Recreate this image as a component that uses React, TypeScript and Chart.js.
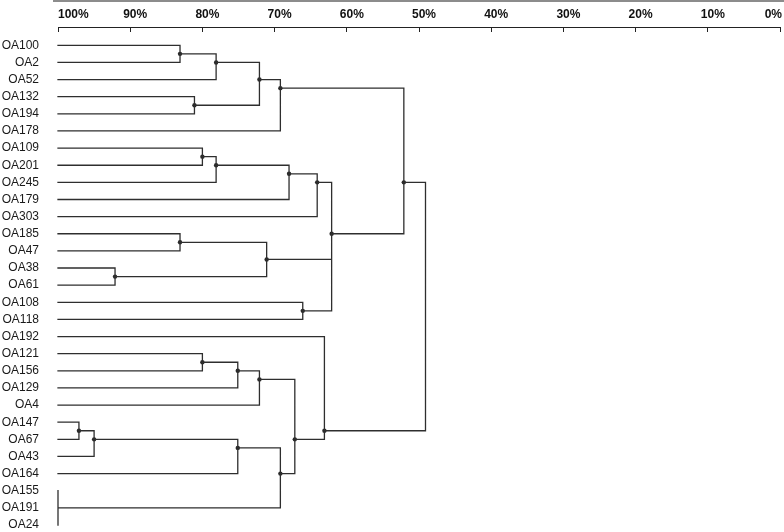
import React, { useEffect, useRef } from 'react';
import { Chart, registerables } from 'chart.js';
Chart.register(...registerables);

// Leaves, top to bottom
const leaves = ['OA100', 'OA2', 'OA52', 'OA132', 'OA194', 'OA178', 'OA109', 'OA201', 'OA245', 'OA179', 'OA303', 'OA185', 'OA47', 'OA38', 'OA61', 'OA108', 'OA118', 'OA192', 'OA121', 'OA156', 'OA129', 'OA4', 'OA147', 'OA67', 'OA43', 'OA164', 'OA155', 'OA191', 'OA24'];

// Cluster merges: children are leaf names or earlier merges "n<index>"
const mergeChildren = [
  ['OA100', 'OA2'],          // n0
  ['n0', 'OA52'],            // n1
  ['OA132', 'OA194'],        // n2
  ['n1', 'n2'],              // n3
  ['n3', 'OA178'],           // n4
  ['OA109', 'OA201'],        // n5
  ['n5', 'OA245'],           // n6
  ['n6', 'OA179'],           // n7
  ['n7', 'OA303'],           // n8
  ['OA185', 'OA47'],         // n9
  ['OA38', 'OA61'],          // n10
  ['n9', 'n10'],             // n11
  ['OA108', 'OA118'],        // n12
  ['n8', 'n11', 'n12'],      // n13
  ['n4', 'n13'],             // n14
  ['OA121', 'OA156'],        // n15
  ['n15', 'OA129'],          // n16
  ['n16', 'OA4'],            // n17
  ['OA147', 'OA67'],         // n18
  ['n18', 'OA43'],           // n19
  ['n19', 'OA164'],          // n20
  ['OA155', 'OA191', 'OA24'],// n21
  ['n20', 'n21'],            // n22
  ['n17', 'n22'],            // n23
  ['OA192', 'n23'],          // n24
  ['n14', 'n24'],            // n25 (root)
];
// Similarity (%) at which each merge happens
const mergeSimilarity = [83.1, 78.1, 81.1, 72.1, 69.2, 80.0, 78.1, 68.0, 64.1, 83.1, 92.1, 71.1, 66.1, 62.1, 52.1, 80.0, 75.1, 72.1, 97.1, 95.0, 75.1, 100, 69.2, 67.2, 63.1, 49.1];

const tickValues = [100, 90, 80, 70, 60, 50, 40, 30, 20, 10, 0];
const tickLabels = ['100%', '90%', '80%', '70%', '60%', '50%', '40%', '30%', '20%', '10%', '0%'];

type Pos = { x: number; y: number; members: number[] };

function buildTree() {
  const leafIdx = new Map<string, number>(leaves.map((n, i) => [n, i]));
  const nodes: Pos[] = [];
  const resolve = (ref: string): Pos => {
    if (leafIdx.has(ref)) {
      const i = leafIdx.get(ref) as number;
      return { x: 100, y: i, members: [i] };
    }
    return nodes[parseInt(ref.slice(1), 10)];
  };
  const segs: { x: number; y: number | null }[] = [];
  const dots: { x: number; y: number }[] = [];
  mergeChildren.forEach((kids, k) => {
    const sim = mergeSimilarity[k];
    const ch = kids.map(resolve).sort((a, b) => a.y - b.y);
    const members = ch.flatMap((c) => c.members);
    const y = members.reduce((s, v) => s + v, 0) / members.length;
    const first = ch[0];
    const last = ch[ch.length - 1];
    segs.push({ x: first.x, y: first.y }, { x: sim, y: first.y }, { x: sim, y: last.y }, { x: last.x, y: last.y }, { x: sim, y: null });
    for (let i = 1; i < ch.length - 1; i++) {
      segs.push({ x: ch[i].x, y: ch[i].y }, { x: sim, y: ch[i].y }, { x: sim, y: null });
    }
    nodes.push({ x: sim, y, members });
    const isRoot = k === mergeChildren.length - 1;
    if (sim < 100 && !isRoot) dots.push({ x: sim, y });
  });
  return { segs, dots };
}

const axisDecor = {
  id: 'axisDecor',
  afterDraw(chart: any) {
    const { ctx } = chart;
    const xs = chart.scales.x;
    ctx.save();
    ctx.fillStyle = '#8c8c8c';
    ctx.fillRect(53, 0, chart.width - 53, 2);
    ctx.font = 'bold 12px "Liberation Sans", Arial, sans-serif';
    ctx.fillStyle = '#111';
    ctx.textBaseline = 'middle';
    ctx.textAlign = 'left';
    tickValues.forEach((v, i) => {
      const px = xs.getPixelForValue(v);
      const w = ctx.measureText(tickLabels[i]).width;
      let left = px + 5 - w / 2;
      if (left < xs.left) left = xs.left;
      if (left + w > chart.width - 2) left = chart.width - 2 - w;
      ctx.fillText(tickLabels[i], left, 14.5);
    });
    ctx.restore();
  },
};

// target pixel rows of the first and last leaf
const FIRST_LEAF_PX = 45.3;
const LAST_LEAF_PX = 525;

export default function App() {
  const ref = useRef<HTMLCanvasElement>(null);
  useEffect(() => {
    const { segs, dots } = buildTree();
    const chart = new Chart(ref.current as HTMLCanvasElement, {
      type: 'line',
      data: {
        datasets: [
          {
            data: segs as any,
            borderColor: '#2e2e2e',
            borderWidth: 1.3,
            pointRadius: 0,
            tension: 0,
            spanGaps: false,
            fill: false,
            clip: false as any,
            borderCapStyle: 'square',
          } as any,
          {
            data: dots as any,
            showLine: false,
            pointRadius: 2.2,
            pointBackgroundColor: '#2a2a2a',
            pointBorderWidth: 0,
            clip: false as any,
          } as any,
        ],
      },
      options: {
        animation: false,
        responsive: false,
        devicePixelRatio: 1,
        events: [],
        layout: { padding: { left: 0, right: 4, top: 0, bottom: 0 } },
        plugins: { legend: { display: false }, tooltip: { enabled: false } },
        scales: {
          x: {
            type: 'linear',
            position: 'top',
            reverse: true,
            min: 0,
            max: 100,
            afterBuildTicks: (s: any) => {
              s.ticks = tickValues.map((v) => ({ value: v }));
            },
            ticks: { display: false },
            grid: { display: true, drawOnChartArea: false, drawTicks: true, tickLength: -5, color: '#222', lineWidth: 1 },
            border: { display: true, color: '#222', width: 1 },
            afterFit: (s: any) => {
              s.height = 27;
              s.paddingLeft = 0;
              s.paddingRight = 0;
            },
          } as any,
          y: {
            type: 'linear',
            reverse: true,
            min: -1.07,
            max: 28.41,
            afterBuildTicks: (s: any) => {
              s.ticks = leaves.map((_, i) => ({ value: i }));
            },
            ticks: {
              autoSkip: false,
              padding: 19,
              color: '#1a1a1a',
              font: { family: '"Liberation Sans", Arial, sans-serif', size: 12 },
              callback: (v: any) => leaves[v] ?? '',
            },
            grid: { display: false, drawTicks: false },
            border: { display: false },
            afterFit: (s: any) => {
              s.width = 58;
              s.paddingTop = 0;
              s.paddingBottom = 0;
            },
          } as any,
        },
      },
      plugins: [axisDecor],
    } as any);
    // fit the leaf rows to the chart area that the layout produced
    const { top, bottom } = chart.chartArea;
    const n = leaves.length - 1;
    const per = (LAST_LEAF_PX - FIRST_LEAF_PX) / n;
    const yOpts: any = (chart.options as any).scales.y;
    yOpts.min = -(FIRST_LEAF_PX - top) / per;
    yOpts.max = n + (bottom - LAST_LEAF_PX) / per;
    chart.update();
    return () => chart.destroy();
  }, []);
  return (
    <div style={{ position: 'fixed', left: 0, top: 0, width: 784, height: 532, background: '#fff' }}>
      <canvas ref={ref} width={784} height={532} style={{ display: 'block', width: 784, height: 532 }} />
    </div>
  );
}
